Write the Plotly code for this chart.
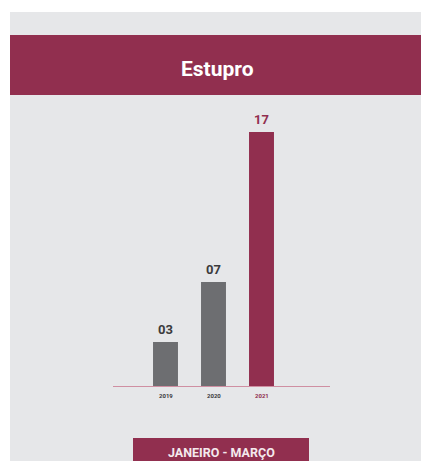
import plotly.graph_objects as go

years = ["2019", "2020", "2021"]
values = [3, 7, 17]
value_labels = ["03", "07", "17"]
bar_colors = ["#6d6e71", "#6d6e71", "#912f4f"]
label_colors = ["#3b3b3d", "#3b3b3d", "#912f4f"]
title_text = "Estupro"
period_text = "JANEIRO - MARÇO"

W, H = 421, 461
L, R = 113, 330          # plot area pixel extents (x)
T, B = 110, 387          # plot area pixel extents (y)

def px(p):
    return (p - L) / (R - L)

def py(p):
    return (B - p) / (B - T)

unit = 48.0
x0 = -(165.5 - L) / unit
x1 = x0 + (R - L) / unit
ymax = (B - T) / 15.0

xpos = list(range(len(years)))
FONT = "Roboto"

fig = go.Figure()
fig.add_trace(go.Bar(
    x=xpos, y=values, marker=dict(color=bar_colors, line=dict(width=0)),
    width=0.52, hoverinfo="skip",
))

annotations = []
for i, (v, lab, c) in enumerate(zip(values, value_labels, label_colors)):
    annotations.append(dict(x=xpos[i], y=v, xref="x", yref="y", text=f"<b>{lab}</b>",
                            showarrow=False, yanchor="bottom", yshift=3,
                            font=dict(family=FONT, size=13, color=c)))
    annotations.append(dict(x=xpos[i], y=py(395), xref="x", yref="paper", text=f"<b>{years[i]}</b>",
                            showarrow=False, yanchor="middle",
                            font=dict(family=FONT, size=6, color=c)))

annotations.append(dict(x=px(217), y=py(69), xref="paper", yref="paper", text=f"<b>{title_text}</b>",
                        showarrow=False, xanchor="center", yanchor="middle",
                        font=dict(family=FONT, size=21, color="white")))
annotations.append(dict(x=px(221), y=py(452), xref="paper", yref="paper", text=f"<b>{period_text}</b>",
                        showarrow=False, xanchor="center", yanchor="middle",
                        font=dict(family=FONT, size=12.5, color="#f4e9ed")))

shapes = [
    dict(type="rect", xref="paper", yref="paper", x0=px(10), x1=px(421), y0=py(12), y1=py(461),
         fillcolor="#e6e7e9", line=dict(width=0), layer="below"),
    dict(type="rect", xref="paper", yref="paper", x0=px(10), x1=px(421), y0=py(35), y1=py(95),
         fillcolor="#912f4f", line=dict(width=0), layer="below"),
    dict(type="rect", xref="paper", yref="paper", x0=px(133), x1=px(309), y0=py(438), y1=py(470),
         fillcolor="#912f4f", line=dict(width=0), layer="below"),
    dict(type="line", xref="paper", yref="y", x0=0, x1=1, y0=0, y1=0,
         line=dict(color="#cf8fa2", width=2), layer="above"),
]

fig.update_layout(
    width=W, height=H,
    margin=dict(l=L, r=W - R, t=T, b=H - B, pad=0),
    paper_bgcolor="white", plot_bgcolor="rgba(0,0,0,0)",
    showlegend=False,
    xaxis=dict(range=[x0, x1], visible=False, fixedrange=True),
    yaxis=dict(range=[0, ymax], visible=False, fixedrange=True),
    annotations=annotations, shapes=shapes,
)

fig.write_html("out.html", config={"displayModeBar": False},
               post_script="document.body.style.margin='0';document.body.style.overflow='hidden';")
